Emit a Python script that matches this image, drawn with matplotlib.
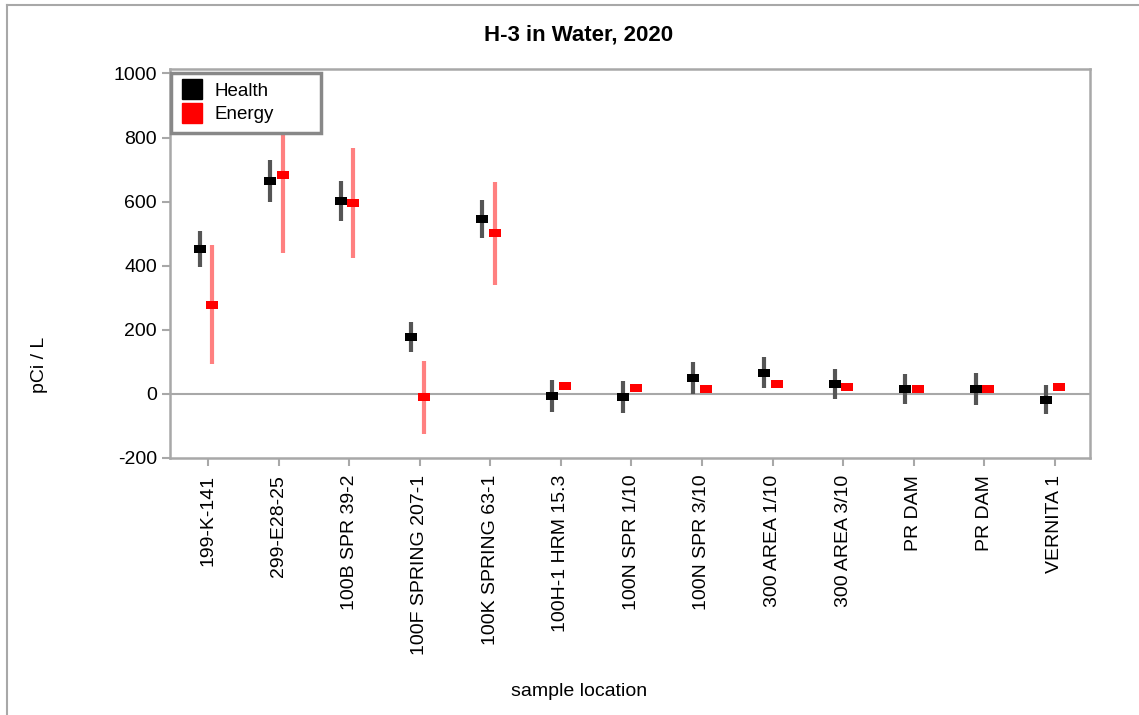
import matplotlib
matplotlib.use("Agg")
import matplotlib.pyplot as plt
from matplotlib.lines import Line2D
import numpy as np

plt.rcParams['font.family'] = ['Liberation Sans', 'DejaVu Sans']
plt.rcParams['axes.unicode_minus'] = False

# Datos
locations = ["199-K-141", "299-E28-25", "100B SPR 39-2", "100F SPRING 207-1",
             "100K SPRING 63-1", "100H-1 HRM 15.3", "100N SPR 1/10", "100N SPR 3/10",
             "300 AREA 1/10", "300 AREA 3/10", "PR DAM", "PR DAM", "VERNITA 1"]
health = [452, 665, 602, 177, 546, -7, -11, 50, 66, 30, 16, 16, -18]
health_err = [55, 65, 61, 46, 58, 49, 50, 49, 49, 47, 47, 50, 46]
energy = [278, 683, 595, -10, 501, 25, 19, 16, 30, 22, 16, 16, 22]
energy_err = [186, 242, 171, 114, 161, 8, 8, 8, 8, 8, 8, 8, 8]

W, H = 1139, 715
fig = plt.figure(figsize=(W / 100, H / 100), dpi=100)
ax = fig.add_axes([170 / W, 1 - 458 / H, 920 / W, 389 / H])

gris = '#a8a8a8'
rect = [(-1, -0.65), (1, -0.65), (1, 0.65), (-1, 0.65)]
x = np.arange(len(locations))

ax.axhline(0, color=gris, lw=1.5, zorder=1)

# Health
ax.errorbar(x - 0.12, health, yerr=health_err, fmt='none', ecolor='#555555',
            elinewidth=3, capsize=0, zorder=2)
ax.plot(x - 0.12, health, linestyle='none', marker=rect, ms=9,
        color='black', mew=0, zorder=3)

# Energy
ax.errorbar(x + 0.06, energy, yerr=energy_err, fmt='none', ecolor='#ff8080',
            elinewidth=3, capsize=0, zorder=4)
ax.plot(x + 0.06, energy, linestyle='none', marker=rect, ms=9,
        color='#ff0000', mew=0, zorder=5)

ax.set_xlim(-0.54, 12.5)
ax.set_ylim(-200, 1014)
ax.set_yticks(range(-200, 1001, 200))
ax.set_xticks(x)
ax.set_xticklabels(locations, rotation=90)
ax.tick_params(axis='both', color=gris, length=6, width=1.5, labelsize=14)
ax.tick_params(axis='y', pad=3.5)
ax.tick_params(axis='x', pad=6)
for s in ax.spines.values():
    s.set_color(gris)
    s.set_linewidth(1.8)

# Leyenda
handles = [Line2D([], [], marker='s', linestyle='none', color='black', ms=15),
           Line2D([], [], marker='s', linestyle='none', color='#ff0000', ms=15)]
leg = fig.legend(handles, ['Health', 'Energy'], loc='upper left', mode='expand',
                 bbox_to_anchor=(171 / W, 1 - 137 / H, 150 / W, 64 / H),
                 bbox_transform=fig.transFigure, fontsize=13.5, fancybox=False,
                 framealpha=1, edgecolor='#888888', borderpad=0.5,
                 labelspacing=0.35, handletextpad=0.6, handlelength=1.2,
                 borderaxespad=0)
leg.get_frame().set_linewidth(2.5)
leg.set_zorder(10)

# Textos
fig.text(579 / W, 1 - 35 / H, 'H-3 in Water, 2020', ha='center', va='center',
         fontsize=16, fontweight='bold')
fig.text(40 / W, 1 - 365 / H, 'pCi / L', rotation=90, ha='center', va='center',
         fontsize=14)
fig.text(579 / W, 1 - 692 / H, 'sample location', ha='center', va='center',
         fontsize=14)

# Marco exterior (izquierda y arriba)
fig.add_artist(Line2D([7 / W, 7 / W], [0, 1 - 5 / H], transform=fig.transFigure,
                      color=gris, lw=1.5))
fig.add_artist(Line2D([7 / W, 1], [1 - 5 / H, 1 - 5 / H], transform=fig.transFigure,
                      color=gris, lw=1.5))

fig.savefig('out.png', dpi=100)
plt.close()
